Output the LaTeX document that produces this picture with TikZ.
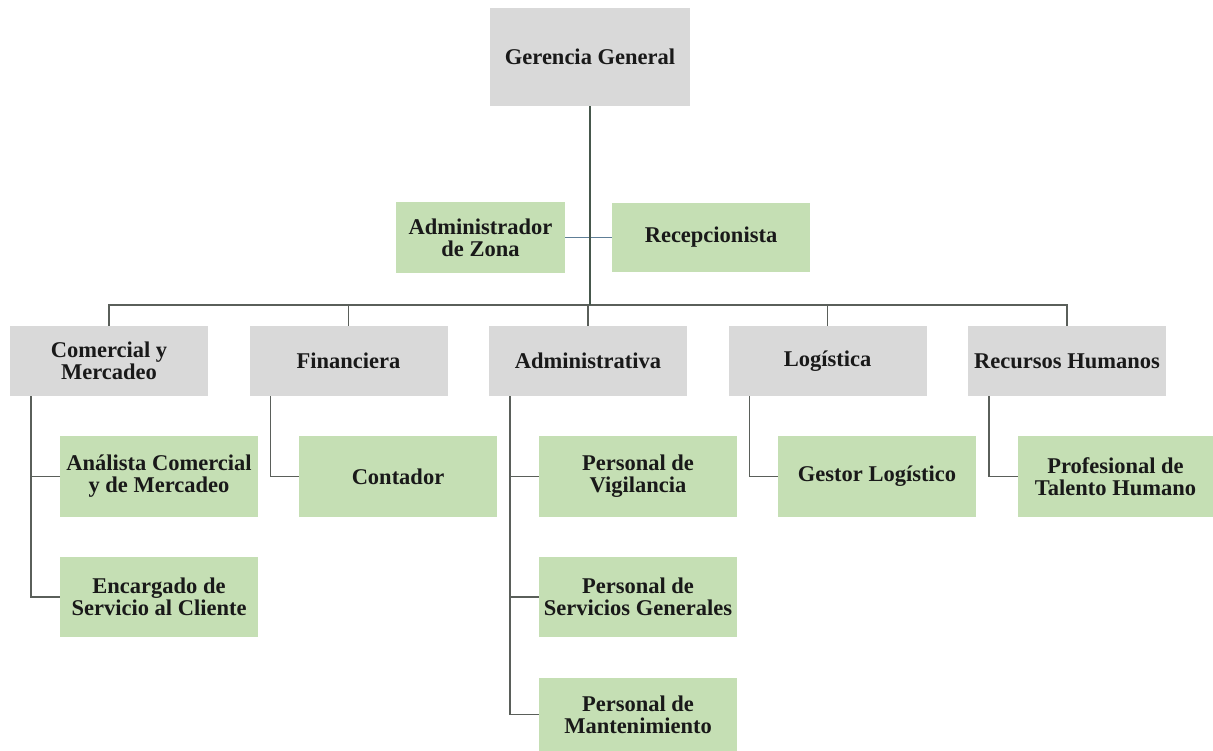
\documentclass[tikz,border=0pt]{standalone}
\usepackage{fontspec}
\setmainfont{Liberation Serif}
\usepackage{tikz}
\definecolor{boxgray}{HTML}{D9D9D9}
\definecolor{boxgreen}{HTML}{C5DFB4}
\definecolor{linegray}{HTML}{5A5F5A}
\definecolor{trunkgray}{HTML}{46574C}
\definecolor{linkblue}{HTML}{5E7E96}

\begin{document}
\begin{tikzpicture}[x=1pt, y=-1pt, node distance=239.5pt,
  box/.style={inner sep=0pt, align=center, font=\bfseries\fontsize{22.5}{22}\selectfont, text=black!90},
  gbox/.style={box, fill=boxgray, minimum width=198pt, minimum height=70pt},
  vbox/.style={box, fill=boxgreen, minimum width=198pt, minimum height=81pt},
  link/.style={draw=linegray, line width=1.4pt},
  trunk/.style={draw=trunkgray, line width=2.6pt}]
\useasboundingbox (0,0) rectangle (1213,751);
\node[gbox, minimum width=200pt, minimum height=98pt] (gg) at (590,57) {Gerencia General};
\node[vbox, minimum width=169pt, minimum height=71pt] (adz) at (480.5,237.5) {Administrador\\de Zona};
\node[vbox, minimum height=69pt] (rec) at (711,237.5) {Recepcionista};
\node[gbox] (com) at (109,361) {Comercial y\\Mercadeo};
\node[gbox] (fin) [right of=com] {Financiera};
\node[gbox] (adm) [right of=fin] {Administrativa};
\node[gbox] (log) [right of=adm] {Logística};
\node[gbox] (rh) [right of=log] {Recursos Humanos};
\node[vbox] (ana) at (159,476.5) {Análista Comercial\\y de Mercadeo};
\node[vbox, minimum height=80pt] (enc) at (159,597) {Encargado de\\Servicio al Cliente};
\node[vbox] (con) at (398,476.5) {Contador};
\node[vbox] (vig) at (638,476.5) {Personal de\\Vigilancia};
\node[vbox, minimum height=80pt] (ser) at (638,597) {Personal de\\Servicios Generales};
\node[vbox, minimum height=73pt] (man) at (638,714.5) {Personal de\\Mantenimiento};
\node[vbox] (ges) at (877,476.5) {Gestor Logístico};
\node[vbox, minimum width=195pt] (pro) at (1115.5,476.5) {Profesional de\\Talento Humano};
\coordinate (bus) at (590,305);
\draw[link, draw=linkblue] (adz.east) -- (rec.west);
\foreach \d in {com,fin,adm,log,rh}
  \draw[link] (bus) -| (\d.north);
\draw[trunk] (gg.south) -- (bus);
\foreach \p/\c in {com/ana,com/enc,fin/con,adm/vig,adm/ser,adm/man,log/ges,rh/pro}
  \draw[link] ([xshift=21pt]\p.south west) |- (\c.west);
\end{tikzpicture}
\end{document}
